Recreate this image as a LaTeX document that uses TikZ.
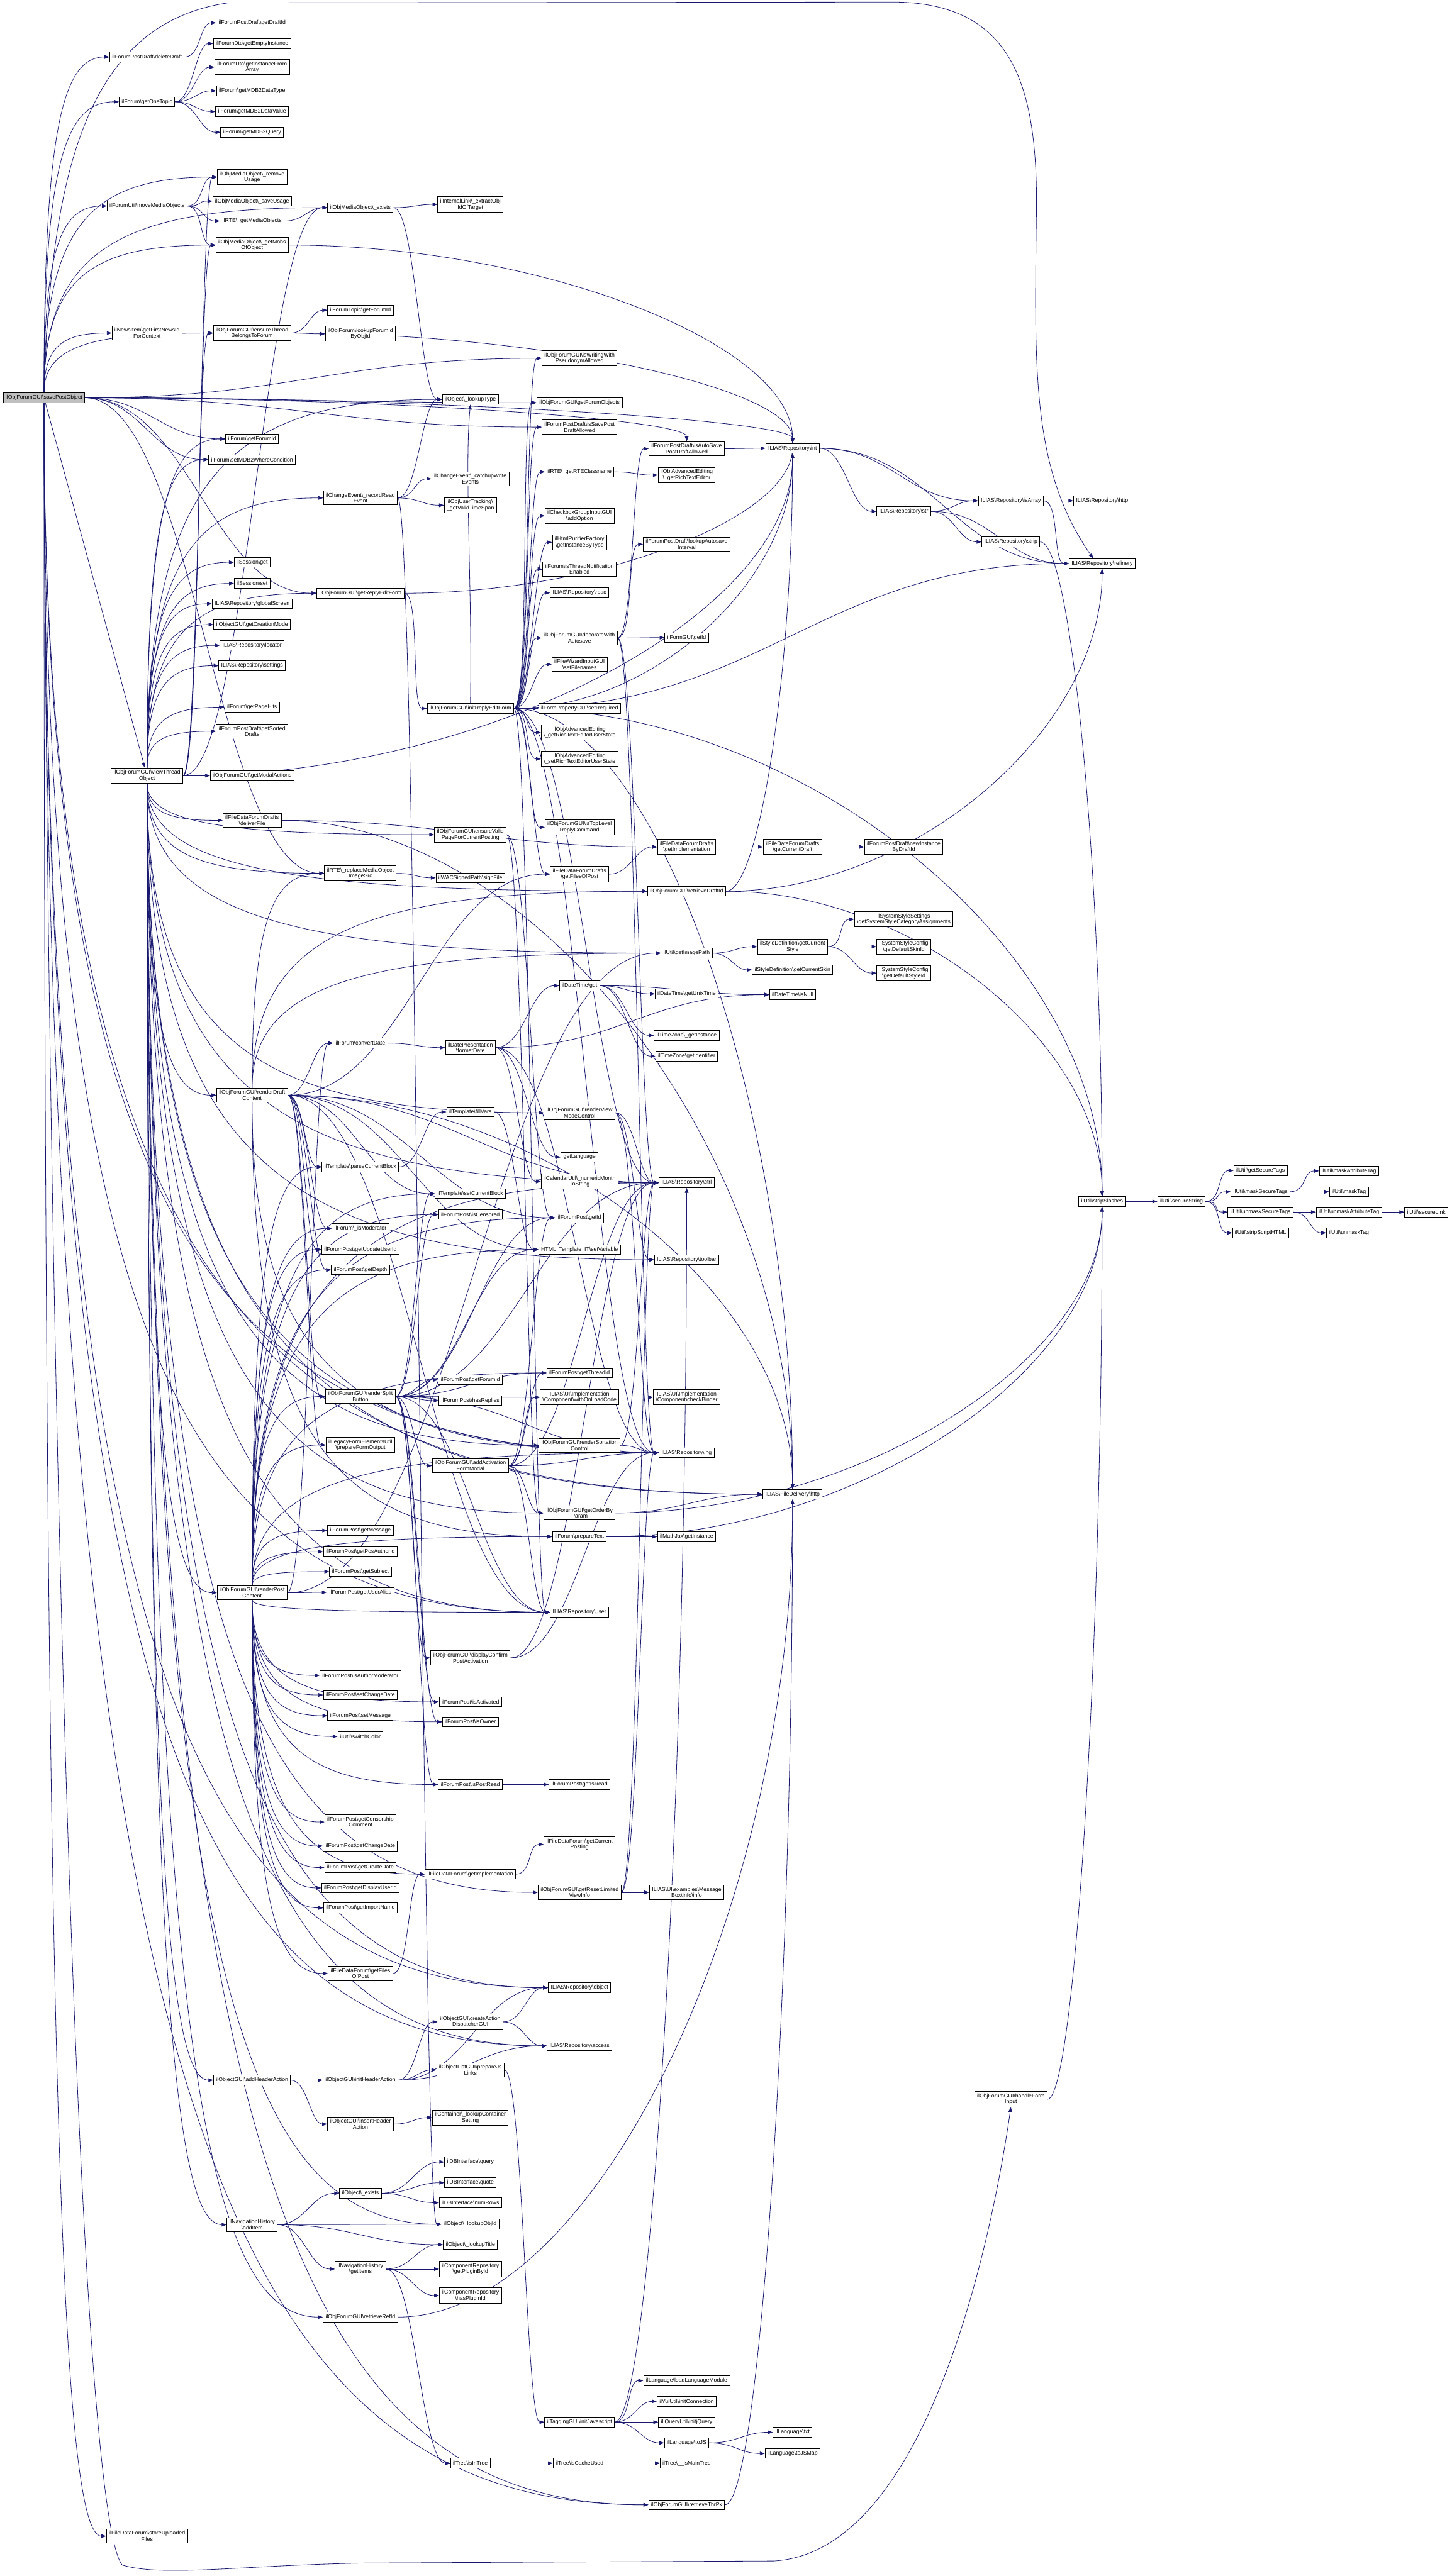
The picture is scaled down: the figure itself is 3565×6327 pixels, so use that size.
\documentclass[tikz,border=0pt]{standalone}
\usepackage{fontspec}
\newfontfamily\lsans{Liberation Sans}
\usetikzlibrary{arrows.meta,calc,backgrounds}
\definecolor{dblue}{HTML}{191970}
\definecolor{rootgray}{HTML}{BFBFBF}
\newcommand\bs{\textbackslash}
\newcommand\fnt{\lsans\fontsize{2.7}{2.95}\selectfont}
\tikzset{
 nd/.style={draw=black,line width=0.3pt,fill=white,font=\fnt,align=center,inner xsep=1.2pt,inner ysep=1.0pt,minimum height=4.8pt},
 cg/.style={draw=dblue,line width=0.25pt,-{Triangle[length=2.4pt,width=1.8pt]}}
}
\newcommand\mkN[4]{\node[nd] (#1) at (#2,#3) {#4};}
\newcommand\eE[2]{\draw[cg] let \p1=(#1.east),\p2=(#2.west),\n1={max(0.45*(\x2-\x1),8pt)} in (\p1) .. controls ({\x1+\n1},\y1) and ({\x2-\n1},\y2) .. (\p2);}
\newcommand\eV[3]{\draw[cg] let \p1=(#1.east),\p2=(#2.#3),\n1={max(0.5*(\x2-\x1),8pt)},\n2={0.5*(\y1-\y2)} in (\p1) .. controls ({\x1+\n1},\y1) and (\x2,{\y2+\n2}) .. (\p2);}
\newcommand\eLs[2]{\draw[cg] let \p1=(#1.south),\p2=(#2.west) in (\p1) .. controls (\x1,{\y1+0.8*(\y2-\y1)}) and ({\x1+0.3*(\x2-\x1)},\y2) .. (\p2);}
\newcommand\eLn[2]{\draw[cg] let \p1=(#1.north),\p2=(#2.west) in (\p1) .. controls (\x1,{\y1+0.8*(\y2-\y1)}) and ({\x1+0.3*(\x2-\x1)},\y2) .. (\p2);}
\begin{document}
\begin{tikzpicture}[x=0.2pt,y=-0.2pt]
\useasboundingbox (0,0) rectangle (3565,6327);
% ---- column 1
\node[nd,fill=rootgray] (root) at (108,977) {ilObjForumGUI\bs savePostObject};
% ---- column 2
\mkN{delDraft}{361}{140}{ilForumPostDraft\bs deleteDraft}
\mkN{oneTopic}{361}{250}{ilForum\bs getOneTopic}
\mkN{moveMob}{361}{506}{ilForumUtil\bs moveMediaObjects}
\mkN{newsId}{361}{818}{ilNewsItem\bs getFirstNewsId\\ForContext}
\mkN{viewThr}{361}{1905}{ilObjForumGUI\bs viewThread\\Object}
\mkN{storeUp}{361}{6229}{ilFileDataForum\bs storeUploaded\\Files}
% ---- column 3
\mkN{draftId}{619}{56}{ilForumPostDraft\bs getDraftId}
\mkN{emptyInst}{619}{107}{ilForumDto\bs getEmptyInstance}
\mkN{instArr}{619}{165}{ilForumDto\bs getInstanceFrom\\Array}
\mkN{mdbType}{619}{223}{ilForum\bs getMDB2DataType}
\mkN{mdbValue}{619}{274}{ilForum\bs getMDB2DataValue}
\mkN{mdbQuery}{619}{325}{ilForum\bs getMDB2Query}
\mkN{remUsage}{619}{435}{ilObjMediaObject\bs\_remove\\Usage}
\mkN{saveUsage}{619}{494}{ilObjMediaObject\bs\_saveUsage}
\mkN{getMobs}{619}{543}{ilRTE\bs\_getMediaObjects}
\mkN{mobsOf}{619}{602}{ilObjMediaObject\bs\_getMobs\\OfObject}
\mkN{ensThr}{619}{818}{ilObjForumGUI\bs ensureThread\\BelongsToForum}
\mkN{forumId}{619}{1078}{ilForum\bs getForumId}
\mkN{setWhere}{619}{1129}{ilForum\bs setMDB2WhereCondition}
\mkN{sessGet}{619}{1381}{ilSession\bs get}
\mkN{sessSet}{619}{1433}{ilSession\bs set}
\mkN{globScr}{619}{1483}{ILIAS\bs Repository\bs globalScreen}
\mkN{creaMode}{619}{1534}{ilObjectGUI\bs getCreationMode}
\mkN{locator}{619}{1585}{ILIAS\bs Repository\bs locator}
\mkN{settings}{619}{1635}{ILIAS\bs Repository\bs settings}
\mkN{pageHits}{619}{1737}{ilForum\bs getPageHits}
\mkN{sortDrafts}{619}{1796}{ilForumPostDraft\bs getSorted\\Drafts}
\mkN{modalAct}{619}{1905}{ilObjForumGUI\bs getModalActions}
\mkN{delivFile}{619}{2015}{ilFileDataForumDrafts\\\bs deliverFile}
\mkN{rDraft}{619}{2690}{ilObjForumGUI\bs renderDraft\\Content}
\mkN{rPost}{619}{3912}{ilObjForumGUI\bs renderPost\\Content}
\mkN{addHdr}{619}{5109}{ilObjectGUI\bs addHeaderAction}
\mkN{navAdd}{619}{5464}{ilNavigationHistory\\\bs addItem}
% ---- column 4
\mkN{mobExists}{885}{510}{ilObjMediaObject\bs\_exists}
\mkN{topicFid}{885}{762}{ilForumTopic\bs getForumId}
\mkN{lookFid}{885}{820}{ilObjForum\bs lookupForumId\\ByObjId}
\mkN{recRead}{885}{1223}{ilChangeEvent\bs\_recordRead\\Event}
\mkN{getReply}{885}{1457}{ilObjForumGUI\bs getReplyEditForm}
\mkN{replMob}{885}{2145}{ilRTE\bs\_replaceMediaObject\\ImageSrc}
\mkN{convDate}{885}{2562}{ilForum\bs convertDate}
\mkN{parseBlk}{885}{2866}{ilTemplate\bs parseCurrentBlock}
\mkN{isMod}{885}{3017}{ilForum\bs\_isModerator}
\mkN{updUser}{885}{3069}{ilForumPost\bs getUpdateUserId}
\mkN{getDepth}{885}{3119}{ilForumPost\bs getDepth}
\mkN{rSplit}{885}{3430}{ilObjForumGUI\bs renderSplit\\Button}
\mkN{prepForm}{885}{3549}{ilLegacyFormElementsUtil\\\bs prepareFormOutput}
\mkN{getMsg}{885}{3759}{ilForumPost\bs getMessage}
\mkN{posAuth}{885}{3811}{ilForumPost\bs getPosAuthorId}
\mkN{getSubj}{885}{3860}{ilForumPost\bs getSubject}
\mkN{userAlias}{885}{3911}{ilForumPost\bs getUserAlias}
\mkN{authMod}{885}{4115}{ilForumPost\bs isAuthorModerator}
\mkN{setChg}{885}{4163}{ilForumPost\bs setChangeDate}
\mkN{setMsg}{885}{4214}{ilForumPost\bs setMessage}
\mkN{switchCol}{885}{4265}{ilUtil\bs switchColor}
\mkN{censCom}{885}{4475}{ilForumPost\bs getCensorship\\Comment}
\mkN{getChg}{885}{4534}{ilForumPost\bs getChangeDate}
\mkN{getCrea}{885}{4587}{ilForumPost\bs getCreateDate}
\mkN{dispUser}{885}{4637}{ilForumPost\bs getDisplayUserId}
\mkN{impName}{885}{4686}{ilForumPost\bs getImportName}
\mkN{filesPost}{885}{4847}{ilFileDataForum\bs getFiles\\OfPost}
\mkN{initHdr}{885}{5109}{ilObjectGUI\bs initHeaderAction}
\mkN{insHdr}{885}{5217}{ilObjectGUI\bs insertHeader\\Action}
\mkN{objExists}{885}{5387}{ilObject\bs\_exists}
\mkN{navGet}{885}{5573}{ilNavigationHistory\\\bs getItems}
\mkN{retrRef}{885}{5691}{ilObjForumGUI\bs retrieveRefId}
% ---- column 5
\mkN{extractObj}{1155}{502}{ilInternalLink\bs\_extractObj\\IdOfTarget}
\mkN{lookType}{1155}{981}{ilObject\bs\_lookupType}
\mkN{catchup}{1155}{1176}{ilChangeEvent\bs\_catchupWrite\\Events}
\mkN{validTS}{1155}{1241}{ilObjUserTracking\bs\\\_getValidTimeSpan}
\mkN{initReply}{1155}{1740}{ilObjForumGUI\bs initReplyEditForm}
\mkN{ensValid}{1155}{2050}{ilObjForumGUI\bs ensureValid\\PageForCurrentPosting}
\mkN{signFile}{1155}{2156}{ilWACSignedPath\bs signFile}
\mkN{fmtDate}{1155}{2573}{ilDatePresentation\\\bs formatDate}
\mkN{fillVars}{1155}{2731}{ilTemplate\bs fillVars}
\mkN{setBlk}{1155}{2932}{ilTemplate\bs setCurrentBlock}
\mkN{isCens}{1155}{2983}{ilForumPost\bs isCensored}
\mkN{postFid}{1155}{3389}{ilForumPost\bs getForumId}
\mkN{hasRepl}{1155}{3440}{ilForumPost\bs hasReplies}
\mkN{addAct}{1155}{3600}{ilObjForumGUI\bs addActivation\\FormModal}
\mkN{dispConf}{1155}{4072}{ilObjForumGUI\bs displayConfirm\\PostActivation}
\mkN{isAct}{1155}{4180}{ilForumPost\bs isActivated}
\mkN{isOwner}{1155}{4229}{ilForumPost\bs isOwner}
\mkN{isPostRead}{1155}{4383}{ilForumPost\bs isPostRead}
\mkN{fdfImpl}{1155}{4603}{ilFileDataForum\bs getImplementation}
\mkN{creaADG}{1155}{4966}{ilObjectGUI\bs createAction\\DispatcherGUI}
\mkN{prepJs}{1155}{5084}{ilObjectListGUI\bs prepareJs\\Links}
\mkN{lookCont}{1155}{5201}{ilContainer\bs\_lookupContainer\\Setting}
\mkN{dbQuery}{1155}{5310}{ilDBInterface\bs query}
\mkN{dbQuote}{1155}{5361}{ilDBInterface\bs quote}
\mkN{dbNum}{1155}{5410}{ilDBInterface\bs numRows}
\mkN{lookObjId}{1155}{5463}{ilObject\bs\_lookupObjId}
\mkN{lookTitle}{1155}{5513}{ilObject\bs\_lookupTitle}
\mkN{plugById}{1155}{5573}{ilComponentRepository\\\bs getPluginById}
\mkN{hasPlug}{1155}{5638}{ilComponentRepository\\\bs hasPluginId}
\mkN{isInTree}{1155}{6050}{ilTree\bs isInTree}
% ---- column 6
\mkN{pseudo}{1423}{880}{ilObjForumGUI\bs isWritingWith\\PseudonymAllowed}
\mkN{forumObjs}{1423}{989}{ilObjForumGUI\bs getForumObjects}
\mkN{isSaveDraft}{1423}{1049}{ilForumPostDraft\bs isSavePost\\DraftAllowed}
\mkN{rteClass}{1423}{1159}{ilRTE\bs\_getRTEClassname}
\mkN{addOpt}{1423}{1267}{ilCheckboxGroupInputGUI\\\bs addOption}
\mkN{purifier}{1423}{1332}{ilHtmlPurifierFactory\\\bs getInstanceByType}
\mkN{threadNotif}{1423}{1398}{ilForum\bs isThreadNotification\\Enabled}
\mkN{rbac}{1423}{1456}{ILIAS\bs Repository\bs rbac}
\mkN{decoAuto}{1423}{1567}{ilObjForumGUI\bs decorateWith\\Autosave}
\mkN{setFn}{1423}{1632}{ilFileWizardInputGUI\\\bs setFilenames}
\mkN{setReq}{1423}{1740}{ilFormPropertyGUI\bs setRequired}
\mkN{getRteUS}{1423}{1799}{ilObjAdvancedEditing\\\bs\_getRichTextEditorUserState}
\mkN{setRteUS}{1423}{1864}{ilObjAdvancedEditing\\\bs\_setRichTextEditorUserState}
\mkN{isTopLvl}{1423}{2032}{ilObjForumGUI\bs isTopLevel\\ReplyCommand}
\mkN{fdfdFiles}{1423}{2147}{ilFileDataForumDrafts\\\bs getFilesOfPost}
\mkN{dtGet}{1423}{2421}{ilDateTime\bs get}
\mkN{rViewMode}{1423}{2733}{ilObjForumGUI\bs renderView\\ModeControl}
\mkN{getLang}{1423}{2842}{getLanguage}
\mkN{numMonth}{1423}{2902}{ilCalendarUtil\bs\_numericMonth\\ToString}
\mkN{postId}{1423}{2991}{ilForumPost\bs getId}
\mkN{setVar}{1423}{3069}{HTML\_Template\_IT\bs setVariable}
\mkN{threadId}{1423}{3372}{ilForumPost\bs getThreadId}
\mkN{withOnLoad}{1423}{3432}{ILIAS\bs UI\bs Implementation\\\bs Component\bs withOnLoadCode}
\mkN{rSort}{1423}{3550}{ilObjForumGUI\bs renderSortation\\Control}
\mkN{orderBy}{1423}{3716}{ilObjForumGUI\bs getOrderBy\\Param}
\mkN{prepText}{1423}{3774}{ilForum\bs prepareText}
\mkN{user}{1423}{3960}{ILIAS\bs Repository\bs user}
\mkN{getIsRead}{1423}{4383}{ilForumPost\bs getIsRead}
\mkN{curPosting}{1423}{4530}{ilFileDataForum\bs getCurrent\\Posting}
\mkN{resetLim}{1423}{4648}{ilObjForumGUI\bs getResetLimited\\ViewInfo}
\mkN{object}{1423}{4882}{ILIAS\bs Repository\bs object}
\mkN{access}{1423}{5025}{ILIAS\bs Repository\bs access}
\mkN{tagJs}{1423}{5949}{ilTaggingGUI\bs initJavascript}
\mkN{isCache}{1423}{6050}{ilTree\bs isCacheUsed}
% ---- column 7
\mkN{isAutoSave}{1686}{1102}{ilForumPostDraft\bs isAutoSave\\PostDraftAllowed}
\mkN{getRte}{1686}{1167}{ilObjAdvancedEditing\\\bs\_getRichTextEditor}
\mkN{autosaveInt}{1686}{1337}{ilForumPostDraft\bs lookupAutosave\\Interval}
\mkN{formId}{1686}{1566}{ilFormGUI\bs getId}
\mkN{fdfdImpl}{1686}{2080}{ilFileDataForumDrafts\\\bs getImplementation}
\mkN{retrDraft}{1686}{2189}{ilObjForumGUI\bs retrieveDraftId}
\mkN{imgPath}{1686}{2341}{ilUtil\bs getImagePath}
\mkN{unixTime}{1686}{2441}{ilDateTime\bs getUnixTime}
\mkN{tzInst}{1686}{2543}{ilTimeZone\bs\_getInstance}
\mkN{tzId}{1686}{2594}{ilTimeZone\bs getIdentifier}
\mkN{ctrl}{1686}{2905}{ILIAS\bs Repository\bs ctrl}
\mkN{toolbar}{1686}{3094}{ILIAS\bs Repository\bs toolbar}
\mkN{checkBinder}{1686}{3432}{ILIAS\bs UI\bs Implementation\\\bs Component\bs checkBinder}
\mkN{lng}{1686}{3568}{ILIAS\bs Repository\bs lng}
\mkN{mathjax}{1686}{3774}{ilMathJax\bs getInstance}
\mkN{infoBox}{1686}{4648}{ILIAS\bs UI\bs examples\bs Message\\Box\bs Info\bs info}
\mkN{loadLang}{1686}{5847}{ilLanguage\bs loadLanguageModule}
\mkN{yui}{1686}{5898}{ilYuiUtil\bs initConnection}
\mkN{jquery}{1686}{5949}{iljQueryUtil\bs initjQuery}
\mkN{toJS}{1686}{6000}{ilLanguage\bs toJS}
\mkN{mainTree}{1686}{6050}{ilTree\bs\_\_isMainTree}
\mkN{retrThr}{1686}{6152}{ilObjForumGUI\bs retrieveThrPk}
% ---- column 8
\mkN{int}{1946}{1101}{ILIAS\bs Repository\bs int}
\mkN{curDraft}{1946}{2080}{ilFileDataForumDrafts\\\bs getCurrentDraft}
\mkN{curStyle}{1946}{2325}{ilStyleDefinition\bs getCurrent\\Style}
\mkN{curSkin}{1946}{2382}{ilStyleDefinition\bs getCurrentSkin}
\mkN{isNull}{1946}{2443}{ilDateTime\bs isNull}
\mkN{fdhttp}{1946}{3670}{ILIAS\bs FileDelivery\bs http}
\mkN{txt}{1946}{5974}{ilLanguage\bs txt}
\mkN{toJSMap}{1946}{6026}{ilLanguage\bs toJSMap}
% ---- column 9
\mkN{str}{2219}{1256}{ILIAS\bs Repository\bs str}
\mkN{newInst}{2219}{2080}{ilForumPostDraft\bs newInstance\\ByDraftId}
\mkN{catAssign}{2219}{2258}{ilSystemStyleSettings\\\bs getSystemStyleCategoryAssignments}
\mkN{defSkin}{2219}{2325}{ilSystemStyleConfig\\\bs getDefaultSkinId}
\mkN{defStyle}{2219}{2390}{ilSystemStyleConfig\\\bs getDefaultStyleId}
% ---- column 10
\mkN{isArray}{2482}{1230}{ILIAS\bs Repository\bs isArray}
\mkN{strip}{2482}{1331}{ILIAS\bs Repository\bs strip}
\mkN{handleForm}{2482}{5156}{ilObjForumGUI\bs handleForm\\Input}
% ---- column 11
\mkN{http}{2706}{1230}{ILIAS\bs Repository\bs http}
\mkN{refinery}{2706}{1384}{ILIAS\bs Repository\bs refinery}
\mkN{stripSl}{2706}{2951}{ilUtil\bs stripSlashes}
% ---- columns 12-15
\mkN{secStr}{2901}{2951}{ilUtil\bs secureString}
\mkN{secTags}{3095}{2875}{ilUtil\bs getSecureTags}
\mkN{maskSec}{3095}{2927}{ilUtil\bs maskSecureTags}
\mkN{unmaskSec}{3095}{2977}{ilUtil\bs unmaskSecureTags}
\mkN{stripScript}{3095}{3028}{ilUtil\bs stripScriptHTML}
\mkN{maskAttr}{3312}{2876}{ilUtil\bs maskAttributeTag}
\mkN{maskTag}{3312}{2927}{ilUtil\bs maskTag}
\mkN{unmaskAttr}{3312}{2977}{ilUtil\bs unmaskAttributeTag}
\mkN{unmaskTag}{3312}{3028}{ilUtil\bs unmaskTag}
\mkN{secLink}{3502}{2977}{ilUtil\bs secureLink}

\begin{pgfonlayer}{background}
\fill[white] (0,0) rectangle (3565,6327);
% root
\eLn{root}{delDraft}\eLn{root}{oneTopic}\eLn{root}{moveMob}\eLn{root}{newsId}
\eLn{root}{remUsage}\eLn{root}{mobsOf}\eLn{root}{mobExists}\eLn{root}{ensThr}
\eE{root}{forumId}\eE{root}{setWhere}\eE{root}{getReply}\eE{root}{replMob}
\draw[cg] (root) -- (viewThr);
\eLs{root}{storeUp}
\eV{root}{int}{north}\eV{root}{isAutoSave}{north}
\eE{root}{pseudo}\eE{root}{forumObjs}\eE{root}{isSaveDraft}
\eLs{root}{lng}\eLs{root}{user}\eLs{root}{object}\eLs{root}{access}\eLs{root}{retrThr}\eLs{root}{fdhttp}
\draw[cg] (root.north) .. controls (125,450) and (200,60) .. (560,7) -- (2200,5) .. controls (2480,10) and (2545,200) .. (2545,500) .. controls (2540,900) and (2530,1150) .. (refinery.150);
\draw[cg] (root.south) .. controls (115,3000) and (180,6150) .. (300,6300) .. controls (400,6330) and (600,6300) .. (900,6295) -- (1900,6290) .. controls (2250,6270) and (2420,5600) .. (handleForm.south);
% viewThreadObject
\eLn{viewThr}{sessGet}\eLn{viewThr}{sessSet}\eLn{viewThr}{globScr}\eLn{viewThr}{creaMode}
\eLn{viewThr}{locator}\eLn{viewThr}{settings}\eLn{viewThr}{pageHits}\eLn{viewThr}{sortDrafts}
\eLn{viewThr}{forumId}\eLn{viewThr}{setWhere}\eLn{viewThr}{recRead}\eLn{viewThr}{getReply}\eLn{viewThr}{lookType}
\eE{viewThr}{modalAct}
\eE{viewThr}{remUsage}\eE{viewThr}{mobsOf}\eE{viewThr}{ensThr}\eE{viewThr}{mobExists}
\eV{viewThr}{int}{south}
\eLs{viewThr}{delivFile}\eLs{viewThr}{rDraft}\eLs{viewThr}{rPost}\eLs{viewThr}{addHdr}\eLs{viewThr}{navAdd}
\eLs{viewThr}{replMob}\eLs{viewThr}{ensValid}\eLs{viewThr}{retrRef}\eLs{viewThr}{retrDraft}\eLs{viewThr}{imgPath}
\eLs{viewThr}{rViewMode}\eLs{viewThr}{rSort}\eLs{viewThr}{orderBy}\eLs{viewThr}{resetLim}\eLs{viewThr}{toolbar}
\eLs{viewThr}{lookObjId}\eLs{viewThr}{retrThr}\eLs{viewThr}{fdhttp}\eLs{viewThr}{ctrl}\eLs{viewThr}{lng}
\eLs{viewThr}{user}\eLs{viewThr}{object}\eLs{viewThr}{access}
% top groups
\eE{delDraft}{draftId}
\eE{oneTopic}{emptyInst}\eE{oneTopic}{instArr}\eE{oneTopic}{mdbType}\eE{oneTopic}{mdbValue}\eE{oneTopic}{mdbQuery}
\eE{moveMob}{remUsage}\eE{moveMob}{saveUsage}\eE{moveMob}{getMobs}\eE{moveMob}{mobsOf}
\eE{getMobs}{mobExists}
\eE{mobExists}{extractObj}\eE{mobExists}{lookType}
\eV{mobsOf}{int}{north}
\eE{ensThr}{topicFid}\eE{ensThr}{lookFid}\eV{ensThr}{int}{north}
\eE{getReply}{initReply}\eV{getReply}{int}{north}
\eE{isAutoSave}{int}
\eE{recRead}{catchup}\eE{recRead}{validTS}\eE{recRead}{lookType}\eE{recRead}{lookObjId}
% initReplyEditForm
\eE{initReply}{pseudo}\eE{initReply}{forumObjs}\eE{initReply}{isSaveDraft}\eE{initReply}{rteClass}
\eE{initReply}{addOpt}\eE{initReply}{purifier}\eE{initReply}{threadNotif}\eE{initReply}{rbac}
\eE{initReply}{decoAuto}\eE{initReply}{setFn}\eE{initReply}{setReq}\eE{initReply}{getRteUS}
\eE{initReply}{setRteUS}\eE{initReply}{isTopLvl}\eE{initReply}{fdfdFiles}\eE{initReply}{user}
\eE{initReply}{lng}\eE{initReply}{ctrl}\eV{initReply}{int}{south}\eE{initReply}{refinery}
\eV{initReply}{stripSl}{north}\eV{initReply}{fdhttp}{north}
\draw[cg] (initReply.north) .. controls (1160,1450) and (1140,1150) .. (lookType.south);
\eE{rteClass}{getRte}
\eE{decoAuto}{formId}\eE{decoAuto}{isAutoSave}\eE{decoAuto}{autosaveInt}\eE{decoAuto}{ctrl}\eE{decoAuto}{lng}
\eE{fdfdFiles}{fdfdImpl}\eE{delivFile}{fdfdImpl}\eV{delivFile}{fdhttp}{north}
\eE{fdfdImpl}{curDraft}\eE{curDraft}{newInst}
\eE{replMob}{signFile}
\eE{ensValid}{orderBy}\eE{ensValid}{postId}
\eV{retrDraft}{int}{south}\eV{retrDraft}{stripSl}{north}\eV{retrDraft}{refinery}{south}
\eE{imgPath}{curStyle}\eE{imgPath}{curSkin}
\eE{curStyle}{catAssign}\eE{curStyle}{defSkin}\eE{curStyle}{defStyle}
\eE{convDate}{fmtDate}
\eE{fmtDate}{dtGet}\eE{fmtDate}{isNull}\eE{fmtDate}{getLang}\eE{fmtDate}{numMonth}\eE{fmtDate}{lng}
\eE{dtGet}{unixTime}\eE{dtGet}{tzInst}\eE{dtGet}{tzId}\eE{dtGet}{isNull}\eE{unixTime}{isNull}
\eE{parseBlk}{fillVars}\eE{fillVars}{setVar}
% repository chain
\eE{int}{str}\eE{int}{isArray}\eE{int}{refinery}
\eE{str}{isArray}\eE{str}{strip}\eE{str}{refinery}
\eE{isArray}{http}\eE{isArray}{refinery}
\eV{strip}{stripSl}{north}
\eE{stripSl}{secStr}
\eE{secStr}{secTags}\eE{secStr}{maskSec}\eE{secStr}{unmaskSec}\eE{secStr}{stripScript}
\eE{maskSec}{maskAttr}\eE{maskSec}{maskTag}\eE{unmaskSec}{unmaskAttr}\eE{unmaskSec}{unmaskTag}
\eE{unmaskAttr}{secLink}
% renderDraftContent
\eLn{rDraft}{replMob}\eE{rDraft}{fdfdFiles}\eLn{rDraft}{retrDraft}\eLn{rDraft}{imgPath}
\eE{rDraft}{convDate}\eE{rDraft}{parseBlk}\eE{rDraft}{isMod}\eE{rDraft}{updUser}\eE{rDraft}{getDepth}
\eE{rDraft}{rSplit}\eE{rDraft}{prepForm}\eE{rDraft}{setBlk}\eE{rDraft}{setVar}\eE{rDraft}{postId}\eE{rDraft}{ctrl}
\eLs{rDraft}{lng}\eLs{rDraft}{prepText}\eE{rDraft}{user}\eV{rDraft}{fdhttp}{north}
% renderPostContent
\eE{rPost}{convDate}\eE{rPost}{imgPath}
\eLn{rPost}{parseBlk}\eLn{rPost}{isMod}\eLn{rPost}{updUser}\eLn{rPost}{getDepth}\eLn{rPost}{rSplit}
\eLn{rPost}{prepForm}\eLn{rPost}{setBlk}\eLn{rPost}{isCens}\eLn{rPost}{postId}\eLn{rPost}{setVar}
\eLn{rPost}{ctrl}\eLn{rPost}{threadId}\eLn{rPost}{lng}\eLn{rPost}{prepText}\eLn{rPost}{getMsg}
\eLn{rPost}{posAuth}\eLn{rPost}{getSubj}\eE{rPost}{userAlias}
\eLs{rPost}{authMod}\eLs{rPost}{setChg}\eLs{rPost}{setMsg}\eLs{rPost}{switchCol}\eLs{rPost}{censCom}
\eLs{rPost}{getChg}\eLs{rPost}{getCrea}\eLs{rPost}{dispUser}\eLs{rPost}{impName}\eLs{rPost}{filesPost}
\eLs{rPost}{isPostRead}\eLs{rPost}{isOwner}\eLs{rPost}{isAct}\eLs{rPost}{user}\eLs{rPost}{fdfImpl}
% renderSplitButton
\eE{rSplit}{postFid}\eE{rSplit}{hasRepl}\eE{rSplit}{threadId}\eE{rSplit}{withOnLoad}\eE{rSplit}{setBlk}
\eE{rSplit}{isCens}\eE{rSplit}{addAct}\eE{rSplit}{dispConf}\eE{rSplit}{isAct}\eE{rSplit}{isOwner}
\eE{rSplit}{isPostRead}\eE{rSplit}{user}\eE{rSplit}{ctrl}\eE{rSplit}{lng}\eE{rSplit}{postId}\eE{rSplit}{setVar}
\eE{addAct}{withOnLoad}\eE{addAct}{postId}\eE{addAct}{lng}\eE{addAct}{ctrl}\eE{addAct}{orderBy}\eE{addAct}{threadId}\eE{addAct}{user}
\eE{withOnLoad}{checkBinder}
\eE{dispConf}{ctrl}\eE{dispConf}{lng}
\eE{rViewMode}{ctrl}\eE{rViewMode}{toolbar}\eE{rViewMode}{lng}
\eE{rSort}{ctrl}\eE{rSort}{lng}
\eE{orderBy}{fdhttp}\eV{orderBy}{stripSl}{south}
\eE{prepText}{mathjax}\eV{prepText}{stripSl}{south}
\eE{isPostRead}{getIsRead}
\eE{filesPost}{fdfImpl}\eE{fdfImpl}{curPosting}
\eE{resetLim}{infoBox}\eE{resetLim}{ctrl}\eE{resetLim}{lng}
% header actions and navigation
\eE{addHdr}{initHdr}\eE{addHdr}{insHdr}
\eE{initHdr}{creaADG}\eE{initHdr}{prepJs}\eE{initHdr}{access}\eE{initHdr}{object}
\eE{creaADG}{object}\eE{creaADG}{access}
\eE{insHdr}{lookCont}
\eE{prepJs}{tagJs}
\eE{tagJs}{loadLang}\eE{tagJs}{yui}\eE{tagJs}{jquery}\eE{tagJs}{toJS}\eV{tagJs}{ctrl}{south}
\eE{toJS}{txt}\eE{toJS}{toJSMap}
\eE{navAdd}{objExists}\eE{navAdd}{navGet}\eE{navAdd}{lookTitle}\eE{navAdd}{lookObjId}
\eE{objExists}{dbQuery}\eE{objExists}{dbQuote}\eE{objExists}{dbNum}
\eE{navGet}{lookTitle}\eE{navGet}{plugById}\eE{navGet}{hasPlug}\eE{navGet}{isInTree}
\eE{isInTree}{isCache}\eE{isInTree}{mainTree}\eE{isCache}{mainTree}
\eV{retrRef}{fdhttp}{south}\eV{retrThr}{fdhttp}{south}
\eV{handleForm}{stripSl}{south}
\end{pgfonlayer}
\end{tikzpicture}
\end{document}
